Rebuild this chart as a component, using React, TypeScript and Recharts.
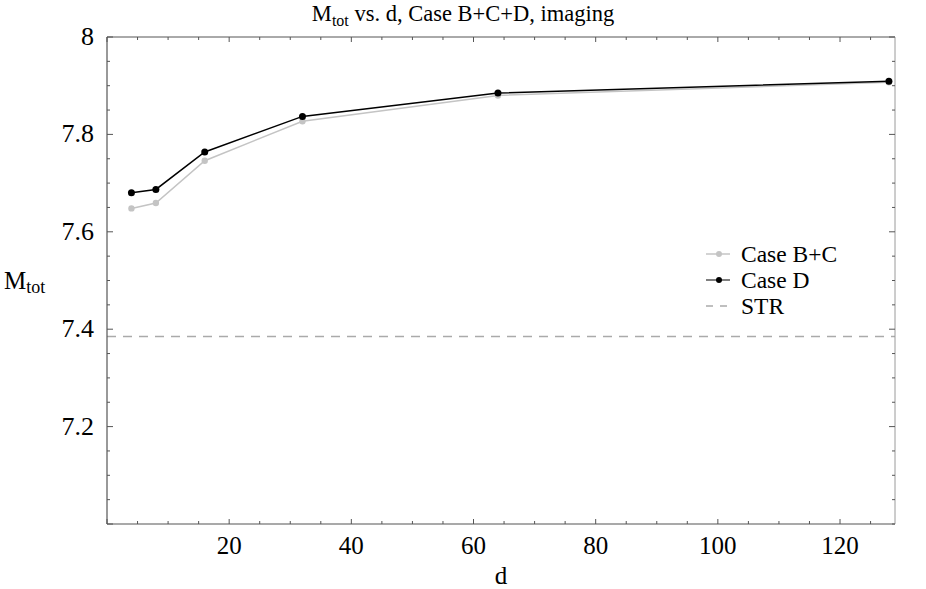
import React from "react";
import {
  LineChart,
  Line,
  XAxis,
  YAxis,
  ReferenceLine,
  Legend,
  Customized,
} from "recharts";

// d values and total M for each case
const dValues = [4, 8, 16, 32, 64, 128];
const caseBC = [7.648, 7.659, 7.746, 7.827, 7.88, 7.907];
const caseD = [7.68, 7.687, 7.764, 7.837, 7.885, 7.909];
const strLevel = 7.385;

const xTicks = [
  0, 5, 10, 15, 20, 25, 30, 35, 40, 45, 50, 55, 60, 65, 70, 75, 80, 85, 90,
  95, 100, 105, 110, 115, 120, 125,
];
const xLabels = [20, 40, 60, 80, 100, 120];
const yTicks = [
  7.0, 7.05, 7.1, 7.15, 7.2, 7.25, 7.3, 7.35, 7.4, 7.45, 7.5, 7.55, 7.6, 7.65,
  7.7, 7.75, 7.8, 7.85, 7.9, 7.95, 8.0,
];
const yLabels = [7.2, 7.4, 7.6, 7.8, 8.0];

const FONT = "Liberation Serif, Times New Roman, serif";
const AXIS = "#555";

const data = dValues.map((d, i) => ({ d, bc: caseBC[i], dd: caseD[i] }));

const isLabelY = (v: number) => yLabels.some((l) => Math.abs(l - v) < 1e-6);

function BottomTick({ x, y, payload }: any) {
  const v = payload.value;
  const major = v % 20 === 0;
  return (
    <g>
      <line x1={x} x2={x} y1={y} y2={y - (major ? 5 : 3)} stroke={AXIS} />
      {xLabels.includes(v) && (
        <text x={x} y={y + 30} textAnchor="middle" style={{ fontFamily: FONT }} fontSize={25} fill="#000">
          {v}
        </text>
      )}
    </g>
  );
}

function TopTick({ x, y, payload }: any) {
  const major = payload.value % 20 === 0;
  return <line x1={x} x2={x} y1={y} y2={y + (major ? 5 : 3)} stroke={AXIS} />;
}

function LeftTick({ x, y, payload }: any) {
  const v = payload.value;
  const major = isLabelY(v) || Math.abs(v - 7) < 1e-6;
  return (
    <g>
      <line x1={x} x2={x + (major ? 6 : 3)} y1={y} y2={y} stroke={AXIS} />
      {isLabelY(v) && (
        <text x={x - 13} y={y + 8} textAnchor="end" style={{ fontFamily: FONT }} fontSize={26} fill="#000">
          {Math.abs(v - 8) < 1e-6 ? "8" : v.toFixed(1)}
        </text>
      )}
    </g>
  );
}

function RightTick({ x, y, payload }: any) {
  const major = isLabelY(payload.value);
  return <line x1={x} x2={x - (major ? 6 : 3)} y1={y} y2={y} stroke={AXIS} />;
}

const legendItems = [
  { name: "Case B+C", color: "#c4c4c4", dot: "#c4c4c4", dash: "" },
  { name: "Case D", color: "#555", dot: "#000", dash: "" },
  { name: "STR", color: "#aaa", dot: "", dash: "7 7" },
];

function renderLegend() {
  return (
    <div style={{ fontFamily: FONT, fontSize: 23.5, color: "#000" }}>
      {legendItems.map((it) => (
        <div key={it.name} style={{ display: "flex", alignItems: "center", height: 26 }}>
          <svg width={28} height={10} style={{ marginRight: 9 }}>
            <line x1={2} x2={26} y1={5} y2={5} stroke={it.color} strokeWidth={1.5} strokeDasharray={it.dash} />
            {it.dot && <circle cx={15} cy={5} r={3} fill={it.dot} />}
          </svg>
          <span style={{ whiteSpace: "nowrap" }}>{it.name}</span>
        </div>
      ))}
    </div>
  );
}

function Title() {
  return (
    <text x={463} y={21} textAnchor="middle" style={{ fontFamily: FONT }} fontSize={22.5} fill="#000">
      M<tspan fontSize={16} dy={5}>tot</tspan>
      <tspan dy={-5}>{"  vs. d, Case B+C+D, imaging"}</tspan>
    </text>
  );
}

function AxisTitles() {
  return (
    <g style={{ fontFamily: FONT }} fill="#000">
      <text x={501} y={584} textAnchor="middle" fontSize={25}>
        d
      </text>
      <text x={4} y={289} fontSize={25}>
        M<tspan fontSize={18} dy={4}>tot</tspan>
      </text>
    </g>
  );
}

export default function App() {
  return (
    <div style={{ position: "absolute", left: 0, top: 0, background: "#fff", fontFamily: FONT }}>
      <LineChart
        width={926}
        height={589}
        data={data}
        margin={{ top: 36, right: 30, left: 0, bottom: 0 }}
        style={{ fontFamily: FONT }}
      >
        <XAxis
          dataKey="d"
          type="number"
          domain={[0, 129]}
          ticks={xTicks}
          interval={0}
          height={65}
          tickSize={0}
          tickMargin={0}
          tickLine={false}
          axisLine={{ stroke: AXIS, strokeWidth: 1.2 }}
          tick={<BottomTick />}
          allowDataOverflow
        />
        <XAxis
          xAxisId="top"
          dataKey="d"
          type="number"
          orientation="top"
          domain={[0, 129]}
          ticks={xTicks}
          interval={0}
          height={1}
          tickSize={0}
          tickMargin={0}
          tickLine={false}
          axisLine={{ stroke: AXIS, strokeWidth: 1 }}
          tick={<TopTick />}
          allowDataOverflow
        />
        <YAxis
          type="number"
          domain={[7, 8]}
          ticks={yTicks}
          interval={0}
          width={107}
          tickSize={0}
          tickMargin={0}
          tickLine={false}
          axisLine={{ stroke: AXIS, strokeWidth: 1.2 }}
          tick={<LeftTick />}
          allowDataOverflow
        />
        <YAxis
          yAxisId="right"
          orientation="right"
          type="number"
          domain={[7, 8]}
          ticks={yTicks}
          interval={0}
          width={1}
          tickSize={0}
          tickMargin={0}
          tickLine={false}
          axisLine={{ stroke: "#9a9a9a", strokeWidth: 1 }}
          tick={<RightTick />}
          allowDataOverflow
        />
        <ReferenceLine y={strLevel} stroke="#aaa" strokeWidth={1.5} strokeDasharray="9 7" />
        <Line
          dataKey="bc"
          name="Case B+C"
          stroke="#c4c4c4"
          strokeWidth={1.5}
          dot={{ r: 3.2, fill: "#c4c4c4", stroke: "#c4c4c4", strokeWidth: 0 }}
          isAnimationActive={false}
        />
        <Line
          dataKey="dd"
          name="Case D"
          stroke="#000"
          strokeWidth={1.5}
          dot={{ r: 3.5, fill: "#000", stroke: "#000", strokeWidth: 0 }}
          isAnimationActive={false}
        />
        <Legend
          layout="horizontal"
          verticalAlign="middle"
          align="center"
          content={renderLegend}
          wrapperStyle={{ left: 704, top: 241, width: 200 }}
        />
        <Customized component={Title} />
        <Customized component={AxisTitles} />
      </LineChart>
    </div>
  );
}
